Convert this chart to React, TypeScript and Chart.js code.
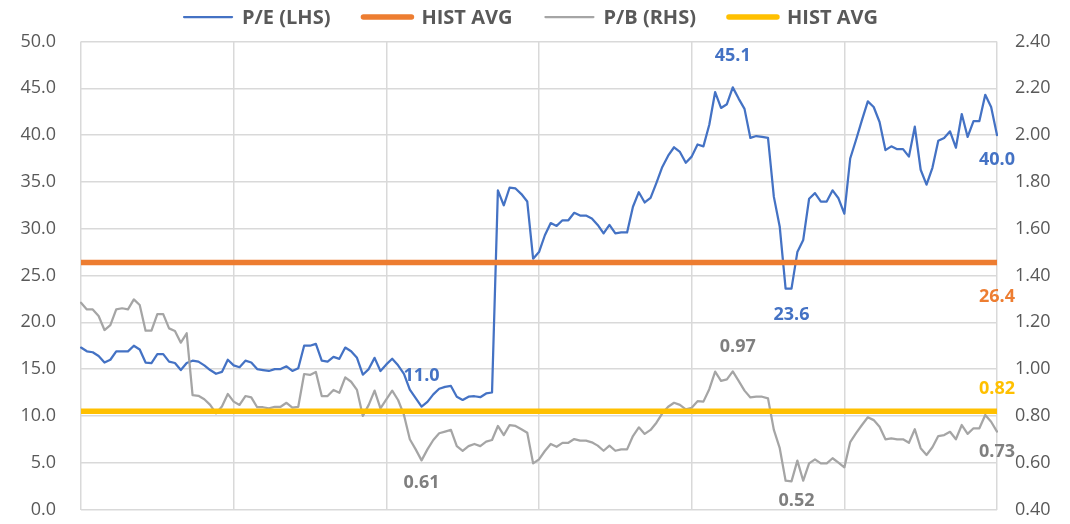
import React, { useEffect, useRef } from "react";
import { Chart, registerables } from "chart.js";

Chart.register(...registerables);

// ---------- data ----------
const PE: number[] = [
  17.3, 16.9, 16.8, 16.4, 15.7, 16.0, 16.9, 16.9, 16.9, 17.5,
  17.1, 15.7, 15.65, 16.6, 16.6, 15.8, 15.65, 14.9, 15.65, 15.9,
  15.8, 15.4, 14.9, 14.5, 14.7, 16.0, 15.4, 15.2, 15.9, 15.7,
  15.0, 14.9, 14.8, 15.0, 15.0, 15.3, 14.8, 15.1, 17.5, 17.5,
  17.7, 15.9, 15.8, 16.3, 16.1, 17.3, 16.9, 16.2, 14.4, 15.0,
  16.2, 14.8, 15.5, 16.1, 15.4, 14.5, 12.8, 11.9, 11.0, 11.5,
  12.3, 12.9, 13.1, 13.2, 12.05, 11.7, 12.05, 12.1, 12.0, 12.4,
  12.5, 34.1, 32.5, 34.4, 34.3, 33.7, 32.9, 26.8, 27.5, 29.3,
  30.6, 30.3, 30.9, 30.9, 31.7, 31.4, 31.4, 31.1, 30.4, 29.5,
  30.4, 29.5, 29.6, 29.6, 32.35, 33.9, 32.8, 33.3, 34.9, 36.6,
  37.8, 38.7, 38.2, 37.05, 37.7, 39.0, 38.8, 41.1, 44.6, 42.9,
  43.3, 45.1, 43.9, 42.8, 39.7, 39.9, 39.8, 39.7, 33.4, 30.2,
  23.6, 23.6, 27.5, 28.8, 33.2, 33.8, 32.9, 32.9, 34.1, 33.25,
  31.6, 37.5, 39.5, 41.6, 43.6, 43.0, 41.4, 38.4, 38.8, 38.5,
  38.5, 37.7, 40.9, 36.3, 34.7, 36.5, 39.4, 39.7, 40.4, 38.65,
  42.25, 39.8, 41.5, 41.5, 44.3, 43.0, 40.0,
];

const PB: number[] = [
  1.284, 1.255, 1.255, 1.227, 1.167, 1.188, 1.255, 1.26, 1.255, 1.298,
  1.274, 1.164, 1.164, 1.235, 1.235, 1.174, 1.163, 1.113, 1.153, 0.889,
  0.886, 0.871, 0.847, 0.811, 0.84, 0.894, 0.861, 0.847, 0.885, 0.879,
  0.837, 0.837, 0.832, 0.839, 0.839, 0.856, 0.835, 0.839, 0.979, 0.975,
  0.988, 0.885, 0.885, 0.911, 0.899, 0.965, 0.946, 0.911, 0.8, 0.847,
  0.908, 0.832, 0.871, 0.908, 0.868, 0.804, 0.7, 0.657, 0.61, 0.657,
  0.697, 0.726, 0.733, 0.74, 0.671, 0.651, 0.671, 0.68, 0.671, 0.69,
  0.697, 0.757, 0.718, 0.761, 0.757, 0.743, 0.728, 0.597, 0.614, 0.65,
  0.68, 0.668, 0.685, 0.685, 0.701, 0.694, 0.694, 0.687, 0.673, 0.651,
  0.673, 0.651, 0.657, 0.657, 0.714, 0.751, 0.723, 0.74, 0.771, 0.811,
  0.839, 0.856, 0.847, 0.828, 0.835, 0.863, 0.861, 0.914, 0.989, 0.95,
  0.956, 0.99, 0.95, 0.908, 0.879, 0.882, 0.882, 0.875, 0.74, 0.662,
  0.523, 0.52, 0.609, 0.523, 0.597, 0.614, 0.597, 0.597, 0.619, 0.6,
  0.58, 0.688, 0.726, 0.761, 0.794, 0.782, 0.754, 0.7, 0.704, 0.7,
  0.7, 0.685, 0.743, 0.662, 0.633, 0.666, 0.714, 0.718, 0.732, 0.7,
  0.761, 0.723, 0.747, 0.747, 0.804, 0.775, 0.733,
];

const PERIODS: string[] = PE.map((_, i) => `P${i + 1}`);

const PE_AVG = 26.4;
const PB_AVG = 0.82;

const SERIES_NAMES = ["P/E (LHS)", "HIST AVG", "P/B (RHS)", "HIST AVG"];

const LEFT_AXIS = { min: 0, max: 50, step: 5 };
const RIGHT_AXIS = { min: 0.4, max: 2.4, step: 0.2 };
const X_GRID_EVERY = 26;

// data labels: series (0..3), point index, text
const LABEL_SERIES = [0, 0, 0, 0, 1, 3, 2, 2, 2, 2];
const LABEL_INDEX = [58, 111, 121, 156, 156, 156, 58, 111, 121, 156];
const LABEL_TEXT = ["11.0", "45.1", "23.6", "40.0", "26.4", "0.82", "0.61", "0.97", "0.52", "0.73"];

// ---------- styles ----------
const COLORS = ["#4472C4", "#ED7D31", "#A5A5A5", "#FFC000"];
const LABEL_COLORS = ["#4472C4", "#ED7D31", "#7F7F7F", "#FFC000"];
const WIDTHS = [2.25, 5.5, 2.25, 5.5];
const LABEL_OFFSETS: [number, number][] = [
  [0, -31], [0, -31], [0, 26], [0, 25], [0, 34], [0, -22],
  [0, 23], [5, -25], [5, 19], [0, 20],
];
const TEXT_COLOR = "#595959";
const GRID_COLOR = "#D9D9D9";
const CLEAR = "rgba(0,0,0,0)";
const FONT = "'Open Sans', sans-serif";

const valueLabelPlugin = {
  id: "valueLabels",
  afterDatasetsDraw(chart: any) {
    const { ctx } = chart;
    const xs = chart.scales.x;
    ctx.save();
    ctx.font = `bold 18px ${FONT}`;
    ctx.textAlign = "center";
    ctx.textBaseline = "middle";
    LABEL_TEXT.forEach((text, k) => {
      const s = LABEL_SERIES[k];
      const ds = chart.data.datasets[s];
      const scale = chart.scales[ds.yAxisID];
      const idx = LABEL_INDEX[k];
      const px = xs.getPixelForValue(idx) + LABEL_OFFSETS[k][0];
      const py = scale.getPixelForValue(ds.data[idx]) + LABEL_OFFSETS[k][1];
      ctx.fillStyle = LABEL_COLORS[s];
      ctx.fillText(text, px, py);
    });
    ctx.restore();
  },
};

const legendPlugin = {
  id: "topLegend",
  afterDraw(chart: any) {
    const { ctx } = chart;
    const sample = 48;
    const gap = 10;
    const itemGap = 33;
    ctx.save();
    ctx.font = `bold 20px ${FONT}`;
    const items = chart.data.datasets.map((ds: any) => ({
      text: ds.label,
      color: ds.borderColor,
      width: ds.borderWidth,
      tw: ctx.measureText(ds.label).width,
    }));
    const total =
      items.reduce((a: number, it: any) => a + sample + gap + it.tw, 0) +
      itemGap * (items.length - 1);
    let x = chart.width / 2 - 4 - total / 2;
    const y = 17;
    items.forEach((it: any) => {
      ctx.beginPath();
      ctx.strokeStyle = it.color;
      ctx.lineWidth = it.width;
      ctx.lineCap = "round";
      ctx.moveTo(x, y);
      ctx.lineTo(x + sample, y);
      ctx.stroke();
      ctx.fillStyle = TEXT_COLOR;
      ctx.textAlign = "left";
      ctx.textBaseline = "middle";
      ctx.fillText(it.text, x + sample + gap, y + 1);
      x += sample + gap + it.tw + itemGap;
    });
    ctx.restore();
  },
};

export default function App() {
  const canvasRef = useRef<HTMLCanvasElement | null>(null);

  useEffect(() => {
    document.body.style.margin = "0";
    const canvas = canvasRef.current;
    if (!canvas) return;
    Chart.defaults.font.family = FONT;

    const chart = new Chart(canvas, {
      type: "line",
      data: {
        labels: PERIODS,
        datasets: [
          {
            label: SERIES_NAMES[0],
            data: PE,
            yAxisID: "y",
            borderColor: COLORS[0],
            backgroundColor: COLORS[0],
            borderWidth: WIDTHS[0],
            pointRadius: 0,
            borderJoinStyle: "round",
            borderCapStyle: "round",
            order: 4,
          },
          {
            label: SERIES_NAMES[1],
            data: PERIODS.map(() => PE_AVG),
            yAxisID: "y",
            borderColor: COLORS[1],
            backgroundColor: COLORS[1],
            borderWidth: WIDTHS[1],
            pointRadius: 0,
            order: 3,
          },
          {
            label: SERIES_NAMES[2],
            data: PB,
            yAxisID: "y2",
            borderColor: COLORS[2],
            backgroundColor: COLORS[2],
            borderWidth: WIDTHS[2],
            pointRadius: 0,
            borderJoinStyle: "round",
            borderCapStyle: "round",
            order: 2,
          },
          {
            label: SERIES_NAMES[3],
            data: PERIODS.map(() => PB_AVG),
            yAxisID: "y2",
            borderColor: COLORS[3],
            backgroundColor: COLORS[3],
            borderWidth: WIDTHS[3],
            pointRadius: 0,
            order: 1,
          },
        ],
      },
      options: {
        animation: false,
        responsive: true,
        maintainAspectRatio: false,
        layout: { padding: { top: 41.5, bottom: 14.5, left: 0, right: 0 } },
        plugins: {
          legend: { display: false },
          tooltip: { enabled: false },
        },
        scales: {
          x: {
            type: "category",
            offset: false,
            ticks: { display: false, autoSkip: false },
            grid: {
              drawTicks: false,
              lineWidth: 1.5,
              color: (c: any) => (c.index % X_GRID_EVERY === 0 ? GRID_COLOR : CLEAR),
            },
            border: { display: false },
            afterFit: (s: any) => {
              s.height = 0;
            },
          },
          y: {
            position: "left",
            min: LEFT_AXIS.min,
            max: LEFT_AXIS.max,
            ticks: {
              stepSize: LEFT_AXIS.step,
              padding: 0,
              color: TEXT_COLOR,
              font: { size: 18, family: FONT },
              callback: (v: any) => Number(v).toFixed(1),
            },
            grid: {
              color: GRID_COLOR,
              lineWidth: 1.5,
              drawTicks: true,
              tickLength: 25,
              tickColor: CLEAR,
            },
            border: { display: false },
            afterFit: (s: any) => {
              s.width = 81;
            },
          },
          y2: {
            position: "right",
            min: RIGHT_AXIS.min,
            max: RIGHT_AXIS.max,
            ticks: {
              stepSize: RIGHT_AXIS.step,
              padding: 0,
              color: TEXT_COLOR,
              font: { size: 18, family: FONT },
              callback: (v: any) => Number(v).toFixed(2),
            },
            grid: {
              display: true,
              drawOnChartArea: false,
              color: CLEAR,
              drawTicks: true,
              tickLength: 18,
              tickColor: CLEAR,
            },
            border: { display: false },
            afterFit: (s: any) => {
              s.width = 73;
            },
          },
        },
      },
      plugins: [valueLabelPlugin, legendPlugin],
    } as any);

    return () => chart.destroy();
  }, []);

  return (
    <div style={{ width: 1070, height: 524, position: "relative" }}>
      <canvas ref={canvasRef} />
    </div>
  );
}
